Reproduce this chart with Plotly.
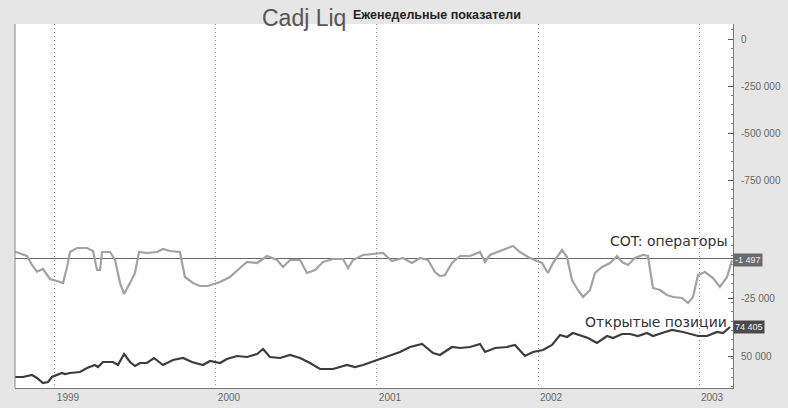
import plotly.graph_objects as go

# ---------------- data ----------------
cot_t = [1998.752, 1998.826, 1998.857, 1998.888, 1998.925, 1998.969, 1999.012, 1999.050, 1999.075, 1999.093,
         1999.137, 1999.199, 1999.236, 1999.261, 1999.280, 1999.292, 1999.342, 1999.373, 1999.404, 1999.429,
         1999.466, 1999.497, 1999.522, 1999.571, 1999.634, 1999.671, 1999.714, 1999.776, 1999.807, 1999.857,
         1999.901, 1999.950, 2000.025, 2000.087, 2000.149, 2000.193, 2000.255, 2000.317, 2000.379, 2000.416,
         2000.460, 2000.522, 2000.565, 2000.615, 2000.665, 2000.727, 2000.789, 2000.820, 2000.851, 2000.913,
         2000.975, 2001.037, 2001.093, 2001.161, 2001.217, 2001.267, 2001.317, 2001.360, 2001.391, 2001.422,
         2001.466, 2001.516, 2001.578, 2001.640, 2001.671, 2001.702, 2001.764, 2001.807, 2001.845, 2001.888,
         2001.938, 2001.994, 2002.025, 2002.062, 2002.093, 2002.149, 2002.180, 2002.211, 2002.248, 2002.280,
         2002.323, 2002.354, 2002.398, 2002.447, 2002.491, 2002.522, 2002.559, 2002.602, 2002.652, 2002.683,
         2002.714, 2002.758, 2002.801, 2002.839, 2002.894, 2002.932, 2002.963, 2002.994, 2003.037, 2003.087,
         2003.130, 2003.174, 2003.205]
cot_operators = [3940, 1250, -4375, -8560, -6875, -13125, -14375, -15625, -5625, 3750,
                 6250, 6250, 4375, -7500, -7500, 3750, 3750, -1250, -15625, -22500,
                 -15625, -9375, 3750, 3125, 3750, 5625, 4375, 3750, -11875, -15625,
                 -17500, -17500, -15000, -11875, -6250, -2500, -3125, 1250, -1250, -5625,
                 -1250, -1250, -9375, -7500, -2500, -625, -625, -6250, -1250, 1875,
                 2500, 3125, -1875, 0, -3125, 0, -1250, -8750, -11250, -10625,
                 -3125, 1250, 1250, 3750, -2500, 1875, 4375, 6250, 7500, 3750,
                 625, -1875, -3125, -9375, -3125, 5000, 625, -13750, -20000, -24375,
                 -20000, -9375, -5625, -3125, 1250, -2500, -4375, 0, 1875, 1250,
                 -18750, -20000, -23125, -24375, -25000, -28125, -24375, -10625, -8750, -12500,
                 -18125, -11875, -1497]

oi_t = [1998.752, 1998.801, 1998.857, 1998.888, 1998.925, 1998.957, 1998.981, 1999.012, 1999.043, 1999.062,
        1999.093, 1999.155, 1999.199, 1999.248, 1999.267, 1999.298, 1999.360, 1999.391, 1999.429, 1999.466,
        1999.497, 1999.528, 1999.571, 1999.615, 1999.671, 1999.733, 1999.795, 1999.851, 1999.919, 1999.963,
        2000.025, 2000.068, 2000.130, 2000.193, 2000.255, 2000.292, 2000.335, 2000.398, 2000.460, 2000.522,
        2000.584, 2000.646, 2000.727, 2000.814, 2000.863, 2000.913, 2001.000, 2001.081, 2001.143, 2001.205,
        2001.280, 2001.348, 2001.391, 2001.466, 2001.516, 2001.578, 2001.640, 2001.671, 2001.733, 2001.807,
        2001.857, 2001.919, 2001.969, 2002.031, 2002.087, 2002.137, 2002.180, 2002.217, 2002.273, 2002.311,
        2002.366, 2002.429, 2002.466, 2002.522, 2002.571, 2002.621, 2002.677, 2002.714, 2002.770, 2002.832,
        2002.901, 2002.957, 2002.994, 2003.050, 2003.112, 2003.149, 2003.193]
open_interest = [32320, 32320, 34000, 31480, 27270, 28110, 32320, 34000, 35690, 34840,
                 35690, 36530, 39900, 42420, 40740, 44950, 44950, 42420, 51680, 44950,
                 41580, 44110, 44110, 48320, 42420, 46630, 48320, 44950, 42420, 45790,
                 44110, 47470, 50000, 49160, 51680, 55890, 49160, 48320, 50840, 48320,
                 44110, 39050, 39050, 42420, 40740, 42420, 46630, 50840, 53370, 57580,
                 60100, 52530, 50840, 57580, 56740, 57580, 60100, 53370, 56740, 57580,
                 59260, 50000, 53370, 55050, 59260, 67680, 66000, 69370, 66840, 65160,
                 60950, 66840, 65160, 68520, 68520, 66840, 69370, 66840, 69370, 71890,
                 70210, 68520, 66840, 66840, 70210, 69370, 74405]

year_ticks = [1999, 2000, 2001, 2002, 2003]
year_labels = ["1999", "2000", "2001", "2002", "2003"]
liq_ticks = [0, -250000, -500000, -750000]
liq_labels = ["0", "-250 000", "-500 000", "-750 000"]
cot_ticks = [-25000]
cot_labels = ["-25 000"]
oi_ticks = [50000]
oi_labels = ["50 000"]

# ---------------- layout helpers ----------------
W, H = 788, 408
L, R, T, B = 15, 733, 24, 388


def px_x(x):
    return (x - L) / (R - L)


def px_y(y):
    return (B - y) / (B - T)


def fmt(v):
    return f"{v:,}".replace(",", " ")


FONT = "Liberation Sans, Arial, sans-serif"
WIDE = "DejaVu Sans, Verdana, sans-serif"

fig = go.Figure()
# COT operators on the base axis
fig.add_trace(go.Scatter(x=cot_t, y=cot_operators, mode="lines", yaxis="y",
                         line=dict(color="#a2a2a2", width=2.2), hoverinfo="skip", showlegend=False))
# open interest on its own overlaid axis
fig.add_trace(go.Scatter(x=oi_t, y=open_interest, mode="lines", yaxis="y2",
                         line=dict(color="#3c3c3c", width=2.2), hoverinfo="skip", showlegend=False))
# empty "Cadj Liq" pane: an invisible helper so its axis is drawn
fig.add_trace(go.Scatter(x=[year_ticks[0]], y=[liq_ticks[0]], mode="markers", yaxis="y3",
                         marker=dict(size=1, opacity=0), hoverinfo="skip", showlegend=False))

axis_common = dict(side="right", anchor="x", showgrid=False, ticks="inside", ticklen=5,
                   tickcolor="#555", showline=True, linecolor="#777", linewidth=1,
                   ticklabelstandoff=5, automargin=False,
                   tickfont=dict(family=FONT, size=10, color="#666"))

fig.update_layout(
    width=W, height=H,
    margin=dict(l=L, r=W - R, t=T, b=H - B, autoexpand=False),
    paper_bgcolor="#e6e6e6",
    plot_bgcolor="#ffffff",
    showlegend=False,
    xaxis=dict(range=[1998.7516, 2003.2112], tickvals=year_ticks, ticktext=year_labels,
               showgrid=True, gridcolor="#8a8a8a", griddash="1px,3px", gridwidth=1,
               ticks="", ticklabelshift=13, showline=True, linecolor="#777", linewidth=1,
               automargin=False,
               zeroline=False, tickfont=dict(family=FONT, size=10, color="#666")),
    yaxis=dict(range=[-81250, 146250], tickvals=cot_ticks, ticktext=cot_labels,
               zeroline=True, zerolinecolor="#666", zerolinewidth=1, **axis_common),
    yaxis2=dict(range=[23056, 329544], tickvals=oi_ticks, ticktext=oi_labels, overlaying="y",
                zeroline=False, **axis_common),
    yaxis3=dict(range=[-1856383, 79787], tickvals=liq_ticks, ticktext=liq_labels, overlaying="y",
                zeroline=False,
                minor=dict(ticks="inside", ticklen=2, dtick=50000, tickcolor="#888"),
                **axis_common),
)

# left border of the plot area
fig.add_shape(type="line", xref="paper", yref="paper", x0=0, x1=0, y0=0, y1=1,
              line=dict(color="#888", width=1))

annotations = [
    dict(text="Cadj Liq", xref="paper", yref="paper", x=px_x(260), y=px_y(18),
         xanchor="left", yanchor="middle", showarrow=False,
         font=dict(family=FONT, size=23, color="#555")),
    dict(text="<b>Еженедельные показатели</b>", xref="paper", yref="paper", x=px_x(351), y=px_y(15),
         xanchor="left", yanchor="middle", showarrow=False,
         font=dict(family=FONT, size=12.5, color="#222")),
    dict(text="COT: операторы", xref="paper", yref="paper", x=px_x(729), y=px_y(241),
         xanchor="right", yanchor="middle", showarrow=False,
         font=dict(family=WIDE, size=14, color="#333")),
    dict(text="Открытые позиции", xref="paper", yref="paper", x=px_x(729), y=px_y(322),
         xanchor="right", yanchor="middle", showarrow=False,
         font=dict(family=WIDE, size=14, color="#333")),
    dict(text=fmt(cot_operators[-1]), xref="paper", yref="y", x=1, y=cot_operators[-1],
         xanchor="left", yanchor="middle", showarrow=False, bgcolor="#6a6a6a", borderpad=1,
         font=dict(family=FONT, size=9, color="#f0f0f0")),
    dict(text=fmt(open_interest[-1]), xref="paper", yref="y2", x=1, y=open_interest[-1],
         xanchor="left", yanchor="middle", showarrow=False, bgcolor="#4a4a4a", borderpad=1,
         font=dict(family=FONT, size=9, color="#f0f0f0")),
]
fig.update_layout(annotations=annotations)

fig.write_html("out.html", config={"displayModeBar": False},
               post_script="document.body.style.margin='0';document.body.style.overflow='hidden';")
